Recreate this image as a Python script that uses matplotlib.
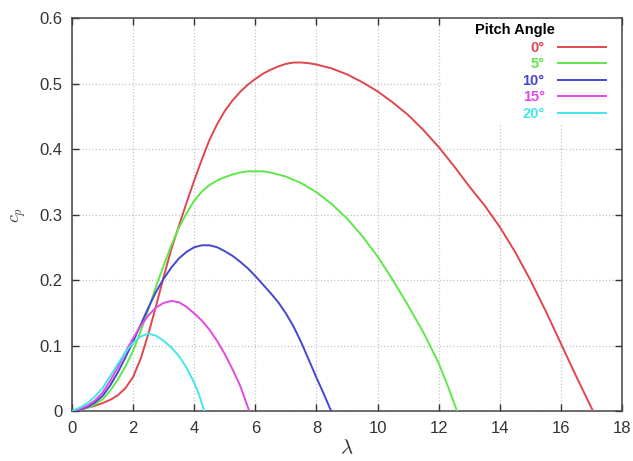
import numpy as np
import matplotlib
matplotlib.use('Agg')
import matplotlib.pyplot as plt
from matplotlib.patches import Rectangle

# Cp vs tip speed ratio
pitch_labels = ['0°', '5°', '10°', '15°', '20°']
colors = ['#e0464e', '#5ee84a', '#4646d2', '#e24ae2', '#46e6e6']

lam_0 = [0, 0.25, 0.5, 0.75, 1, 1.25, 1.5, 1.75, 2, 2.25, 2.5, 2.75, 3, 3.25, 3.5, 3.75,
         4, 4.25, 4.5, 4.75, 5, 5.25, 5.5, 5.75, 6, 6.25, 6.5, 6.75, 7, 7.25, 7.5, 7.75,
         8, 8.5, 9, 9.5, 10, 10.5, 11, 11.5, 12, 12.5, 13, 13.5, 14, 14.5, 15, 15.5,
         16, 16.5, 17.05]
cp_0 = [0, 0.002, 0.005, 0.008, 0.012, 0.017, 0.024, 0.035, 0.052, 0.08, 0.118, 0.16,
        0.205, 0.247, 0.283, 0.318, 0.352, 0.384, 0.414, 0.438, 0.458, 0.474, 0.487,
        0.498, 0.507, 0.515, 0.521, 0.526, 0.530, 0.532, 0.532, 0.531, 0.529, 0.523,
        0.514, 0.502, 0.488, 0.471, 0.452, 0.429, 0.403, 0.374, 0.343, 0.314, 0.281,
        0.243, 0.2, 0.153, 0.103, 0.053, 0]

lam_5 = [0, 0.25, 0.5, 0.75, 1, 1.25, 1.5, 1.75, 2, 2.25, 2.5, 2.75, 3, 3.25, 3.5, 3.75,
         4, 4.25, 4.5, 4.75, 5, 5.25, 5.5, 5.75, 6, 6.25, 6.5, 7, 7.5, 8, 8.5, 9, 9.5,
         10, 10.5, 11, 11.5, 12, 12.3, 12.6]
cp_5 = [0, 0.002, 0.005, 0.01, 0.018, 0.031, 0.048, 0.068, 0.092, 0.122, 0.155, 0.19,
        0.222, 0.253, 0.28, 0.302, 0.321, 0.335, 0.345, 0.352, 0.357, 0.361, 0.364,
        0.366, 0.366, 0.366, 0.364, 0.358, 0.348, 0.334, 0.316, 0.294, 0.267, 0.236,
        0.2, 0.161, 0.12, 0.073, 0.038, 0]

lam_10 = [0, 0.25, 0.5, 0.75, 1, 1.25, 1.5, 1.75, 2, 2.25, 2.5, 2.75, 3, 3.25, 3.5, 3.75,
          4, 4.25, 4.5, 4.75, 5, 5.25, 5.5, 5.75, 6, 6.25, 6.5, 6.75, 7, 7.25, 7.5, 7.75,
          8, 8.25, 8.48]
cp_10 = [0, 0.002, 0.006, 0.013, 0.023, 0.039, 0.059, 0.082, 0.106, 0.132, 0.158, 0.182,
         0.202, 0.219, 0.233, 0.243, 0.25, 0.253, 0.253, 0.25, 0.244, 0.237, 0.228, 0.218,
         0.206, 0.193, 0.18, 0.166, 0.149, 0.129, 0.105, 0.078, 0.051, 0.025, 0]

lam_15 = [0, 0.25, 0.5, 0.75, 1, 1.25, 1.5, 1.75, 2, 2.25, 2.5, 2.75, 3, 3.25, 3.5, 3.75,
          4, 4.25, 4.5, 4.75, 5, 5.25, 5.5, 5.8]
cp_15 = [0, 0.003, 0.008, 0.016, 0.028, 0.046, 0.067, 0.09, 0.111, 0.13, 0.146, 0.158,
         0.165, 0.168, 0.166, 0.159, 0.149, 0.138, 0.124, 0.107, 0.087, 0.064, 0.039, 0]

lam_20 = [0, 0.25, 0.5, 0.75, 1, 1.25, 1.5, 1.75, 2, 2.25, 2.5, 2.75, 3, 3.25, 3.5, 3.75,
          4, 4.15, 4.33]
cp_20 = [0, 0.005, 0.012, 0.022, 0.035, 0.053, 0.072, 0.09, 0.104, 0.114, 0.118, 0.115,
         0.107, 0.097, 0.084, 0.066, 0.043, 0.026, 0]

lams = [lam_0, lam_5, lam_10, lam_15, lam_20]
cps = [cp_0, cp_5, cp_10, cp_15, cp_20]

plt.rcParams['font.family'] = ['Liberation Sans', 'DejaVu Sans']
plt.rcParams['mathtext.fontset'] = 'cm'

fig = plt.figure(figsize=(6.33, 4.61), dpi=100)
ax = fig.add_axes([72 / 633, 50 / 461, 550 / 633, 393 / 461])

for x, y, c, lab in zip(lams, cps, colors, pitch_labels):
    ax.plot(x, y, color=c, lw=1.4, label=lab, zorder=3, solid_joinstyle='round')

ax.set_xlim(0, 18)
ax.set_ylim(0, 0.6)
ax.set_xticks(np.arange(0, 19, 2))
ax.set_yticks(np.arange(0, 0.61, 0.1))
ax.set_yticklabels(['0', '0.1', '0.2', '0.3', '0.4', '0.5', '0.6'])

ax.set_axisbelow(True)
ax.grid(True, color='#c4c4c4', linestyle=':', lw=0.9)
# white area behind the legend hides the grid there
ax.add_patch(Rectangle((12.08, 0.44), 5.92, 0.16, facecolor='white', edgecolor='none', zorder=1))

ax.tick_params(direction='in', top=True, right=True, length=5, width=1,
               labelsize=12, colors='#333333', pad=7)
for s in ax.spines.values():
    s.set_color('#444444')
    s.set_linewidth(1.1)

ax.set_xlabel(r'$\lambda$', fontsize=15, color='#333333', labelpad=2)
ax.set_ylabel(r'$c_p$', fontsize=13, color='#444444', labelpad=8)

ax.text(0.733, 0.969, 'Pitch Angle', transform=ax.transAxes, fontsize=10.5,
        fontweight='bold', ha='left', va='center', color='black')
leg = ax.legend(loc='upper right', bbox_to_anchor=(0.984, 0.96), frameon=False,
                markerfirst=False, labelcolor='linecolor', borderpad=0,
                labelspacing=0.17, handlelength=3.3, handletextpad=0.9,
                prop={'weight': 'bold', 'size': 10.5})

fig.savefig('out.png', dpi=100)
